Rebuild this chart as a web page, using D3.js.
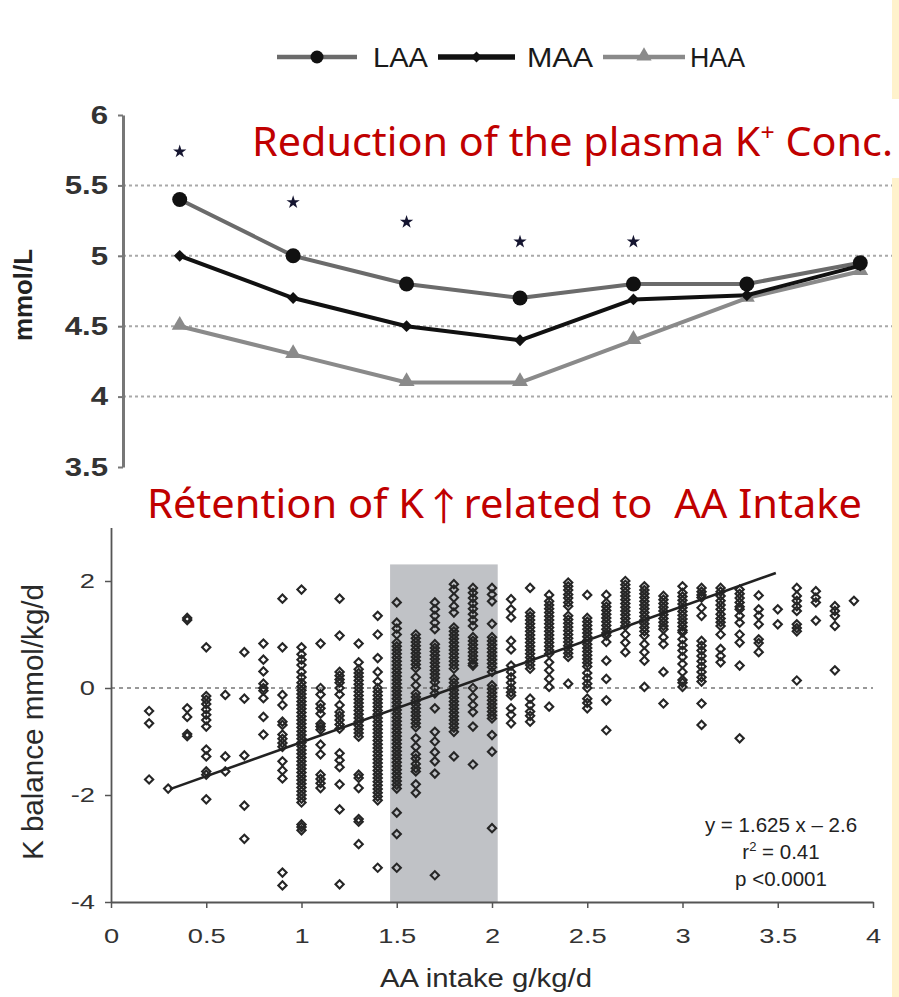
<!DOCTYPE html>
<html><head><meta charset="utf-8">
<script src="https://cdn.jsdelivr.net/npm/d3@7"></script>
<style>body{margin:0;background:#fff}svg{display:block}</style>
</head><body><svg id="c" width="899" height="997"></svg>
<script>
// ---------- top chart data ----------
const groups = [1, 2, 3, 4, 5, 6, 7];
const laa = [5.4, 5.0, 4.8, 4.7, 4.8, 4.8, 4.95];
const maa = [5.0, 4.7, 4.5, 4.4, 4.69, 4.72, 4.93];
const haa = [4.5, 4.3, 4.1, 4.1, 4.4, 4.7, 4.89];
const starGroups = [1, 2, 3, 4, 5];
const starLevels = [5.74, 5.38, 5.24, 5.1, 5.1];
const topTicks = [3.5, 4, 4.5, 5, 5.5, 6];
const gridLevels = [4, 4.5, 5, 5.5];
const legendNames = ["LAA", "MAA", "HAA"];

// ---------- bottom chart data ----------
const aaIntake = [0.2,0.3,0.4,0.5,0.6,0.7,0.8,0.9,1.0,1.1,1.2,1.3,1.4,1.5,1.6,1.7,1.8,1.9,2.0,
  2.1,2.2,2.3,2.4,2.5,2.6,2.7,2.8,2.9,3.0,3.1,3.2,3.3,3.4,3.5,3.6,3.7,3.8,3.9];
const kBalance = [
  [-0.43,-0.66,-1.71],
  [-1.88],
  [1.27,1.31,-0.38,-0.54,-0.86,-0.9],
  [0.76,-0.15,-0.22,-0.3,-0.4,-0.5,-0.6,-0.72,-1.15,-1.28,-1.56,-1.62,-2.08],
  [-0.13,-1.28,-1.56],
  [0.67,-0.2,-1.26,-2.2,-2.82],
  [0.83,0.53,0.31,0.08,0.0,-0.05,-0.19,-0.54,-0.87],
  [1.67,0.76,-0.13,-0.32,-0.63,-0.69,-0.87,-0.95,-1.03,-1.1,-1.37,-1.54,-1.69,-3.45,-3.69],
  [1.84,0.76,0.63,0.53,0.43,0.3,0.2,0.1,0.03,-0.04,-0.11,-0.18,-0.25,-0.32,-0.39,-0.46,-0.53,-0.6,-0.67,-0.74,-0.81,-0.88,-0.95,-1.02,-1.09,-1.16,-1.23,-1.3,-1.37,-1.44,-1.51,-1.58,-1.65,-1.72,-1.79,-1.86,-1.93,-2.0,-2.07,-2.14,-2.55,-2.6,-2.66],
  [0.83,0.0,-0.12,-0.3,-0.38,-0.48,-0.67,-0.72,-0.78,-1.06,-1.24,-1.62,-1.7,-1.78,-1.87],
  [1.67,0.98,0.3,0.23,0.16,0.1,0.0,-0.12,-0.32,-0.45,-0.52,-0.6,-0.68,-0.76,-1.22,-1.35,-1.48,-1.8,-2.27,-3.67],
  [0.83,0.48,0.35,0.28,0.21,0.14,0.07,0.0,-0.07,-0.14,-0.21,-0.28,-0.35,-0.42,-0.49,-0.56,-0.63,-0.7,-0.77,-0.84,-0.91,-1.62,-1.68,-1.87,-2.45,-2.5,-2.92],
  [1.35,1.0,0.56,0.3,0.12,0.0,-0.07,-0.14,-0.21,-0.28,-0.35,-0.42,-0.49,-0.56,-0.63,-0.7,-0.77,-0.84,-0.91,-0.98,-1.05,-1.12,-1.19,-1.26,-1.33,-1.4,-1.47,-1.54,-1.61,-1.68,-1.75,-1.82,-1.89,-1.96,-2.03,-2.1,-3.36],
  [1.6,1.22,1.11,1.0,0.85,0.78,0.71,0.64,0.57,0.5,0.43,0.36,0.29,0.22,0.15,0.08,0.01,-0.06,-0.13,-0.2,-0.27,-0.34,-0.41,-0.48,-0.55,-0.62,-0.69,-0.76,-0.83,-0.9,-0.97,-1.04,-1.11,-1.18,-1.25,-1.32,-1.39,-1.46,-1.53,-1.6,-1.67,-1.74,-1.81,-1.88,-2.33,-2.73,-3.36],
  [1.0,0.93,0.86,0.79,0.72,0.65,0.58,0.51,0.44,0.37,0.2,0.05,-0.1,-0.17,-0.24,-0.31,-0.38,-0.45,-0.52,-0.59,-0.66,-0.73,-0.94,-1.1,-1.24,-1.32,-1.42,-1.5,-1.56,-1.8,-1.96],
  [1.6,1.47,1.35,1.22,1.1,0.82,0.75,0.68,0.61,0.54,0.47,0.4,0.33,0.26,0.19,0.11,0.0,-0.1,-0.38,-0.82,-1.0,-1.2,-1.37,-1.6,-3.5],
  [1.94,1.84,1.69,1.53,1.41,1.13,1.06,0.99,0.92,0.85,0.78,0.71,0.64,0.57,0.5,0.43,0.36,0.17,0.1,0.03,-0.04,-0.11,-0.18,-0.25,-0.32,-0.39,-0.46,-0.53,-0.6,-0.67,-0.74,-0.82,-1.28],
  [1.87,1.78,1.68,1.58,1.48,1.38,1.27,1.16,0.95,0.88,0.81,0.74,0.67,0.6,0.53,0.46,0.42,0.0,-0.17,-0.32,-0.45,-0.72,-1.43],
  [1.87,1.75,1.62,1.2,0.95,0.88,0.81,0.74,0.67,0.6,0.53,0.46,0.39,0.3,0.05,-0.02,-0.09,-0.16,-0.23,-0.3,-0.37,-0.44,-0.51,-0.57,-0.88,-1.19,-2.62],
  [1.66,1.47,1.32,0.88,0.72,0.42,0.3,0.2,0.1,0.0,-0.08,-0.14,-0.38,-0.5,-0.66],
  [1.87,1.41,1.34,1.27,1.2,1.13,1.06,0.99,0.92,0.85,0.78,0.71,0.64,0.57,0.5,0.43,0.36,-0.2,-0.32,-0.44,-0.52,-0.63],
  [1.74,1.62,1.55,1.48,1.41,1.34,1.27,1.2,1.13,1.06,0.99,0.92,0.85,0.78,0.71,0.64,0.48,0.33,0.17,0.02,-0.35],
  [1.97,1.9,1.83,1.75,1.68,1.6,1.53,1.35,1.28,1.21,1.14,1.07,1.0,0.93,0.86,0.79,0.72,0.65,0.58,0.08],
  [1.74,1.31,1.24,1.17,1.1,1.03,0.96,0.89,0.82,0.75,0.68,0.61,0.54,0.47,0.4,0.28,0.18,0.08,0.0,-0.2,-0.28,-0.38],
  [1.74,1.59,1.52,1.45,1.38,1.31,1.24,1.17,1.1,1.03,0.98,0.86,0.51,0.17,-0.23,-0.79],
  [2.0,1.93,1.86,1.79,1.72,1.65,1.58,1.51,1.44,1.37,1.3,1.23,1.16,1.0,0.85,0.67],
  [1.9,1.83,1.76,1.69,1.62,1.55,1.48,1.41,1.34,1.27,1.2,1.13,1.06,0.98,0.82,0.67,0.51,0.02],
  [1.72,1.65,1.58,1.51,1.44,1.37,1.3,1.23,1.16,1.1,0.95,0.82,0.3,-0.29],
  [1.9,1.78,1.71,1.64,1.57,1.5,1.43,1.36,1.29,1.22,1.15,1.08,1.04,0.91,0.8,0.7,0.58,0.45,0.3,0.15,0.1,0.02],
  [1.87,1.8,1.74,1.69,1.5,1.35,0.88,0.79,0.7,0.6,0.5,0.4,0.3,0.2,0.12,-0.29,-0.69],
  [1.87,1.8,1.72,1.63,1.55,1.47,1.38,1.3,1.23,1.16,1.0,0.73,0.6,0.48],
  [1.84,1.76,1.68,1.6,1.52,1.47,1.35,1.22,1.0,0.85,0.42,-0.94],
  [1.73,1.47,1.35,1.19,0.91,0.84,0.67],
  [1.47,1.19],
  [1.87,1.72,1.63,1.53,1.44,1.19,1.12,1.06,0.14],
  [1.81,1.69,1.6,1.26],
  [1.53,1.44,1.35,1.16,0.33],
  [1.63]
];
const fitX = [0.31, 3.49];
const fitY = [-1.89, 2.15];
const shadeX = [1.465, 2.03];
const shadeTop = 2.31;
const xTicksB = [0, 0.5, 1, 1.5, 2, 2.5, 3, 3.5, 4];
const yTicksB = [-4, -2, 0, 2];
const statLines = ["y = 1.625 x \u2013 2.6", "r\u00b2 = 0.41", "p <0.0001"];

const svg = d3.select('#c');
const AR = 'Liberation Sans, Arial, sans-serif';
const RED = 'Noto Sans, Open Sans, sans-serif';

// right yellow strip
svg.append('rect').attr('x', 892).attr('y', 0).attr('width', 7).attr('height', 99).attr('fill', '#FFF2CC');
svg.append('rect').attr('x', 892).attr('y', 178).attr('width', 7).attr('height', 819).attr('fill', '#FFF2CC');

// ================= TOP CHART =================
const xT = d3.scaleLinear().domain([0.5, 7.5]).range([123, 917]);
const yT = d3.scaleLinear().domain([3.5, 6]).range([467, 115]);

svg.append('g').selectAll('line').data(gridLevels).join('line')
  .attr('x1', 123).attr('x2', 892).attr('y1', d => yT(d)).attr('y2', d => yT(d))
  .attr('stroke', '#a9a9a9').attr('stroke-width', 2).attr('stroke-dasharray', '3,3');

const gAxT = svg.append('g').attr('transform', 'translate(123,0)')
  .call(d3.axisLeft(yT).tickValues(topTicks).tickFormat(d => String(d)).tickSize(5).tickSizeOuter(0).tickPadding(12));
gAxT.select('.domain').attr('stroke', '#777').attr('stroke-width', 3);
gAxT.selectAll('.tick line').attr('stroke', '#777').attr('stroke-width', 2);
gAxT.selectAll('.tick text').attr('font-family', AR).attr('font-size', 26).attr('font-weight', 'bold')
  .attr('fill', '#333').attr('x', -15 / 1.2).attr('transform', 'scale(1.2,1)');

svg.append('text').attr('transform', 'translate(32,295) rotate(-90)').attr('text-anchor', 'middle')
  .attr('font-family', AR).attr('font-size', 26).attr('font-weight', 'bold').attr('fill', '#222')
  .attr('textLength', 92).attr('lengthAdjust', 'spacingAndGlyphs').text('mmol/L');

const lineT = d3.line().x((d, i) => xT(groups[i])).y(d => yT(d));
const series = [
  {name: 'LAA', vals: laa, color: '#6b6b6b', width: 4},
  {name: 'MAA', vals: maa, color: '#111', width: 4},
  {name: 'HAA', vals: haa, color: '#8a8a8a', width: 4}
];
[series[2], series[0], series[1]].forEach(s => {
  svg.append('path').datum(s.vals).attr('d', lineT).attr('fill', 'none')
    .attr('stroke', s.color).attr('stroke-width', s.width).attr('stroke-linejoin', 'round');
});
svg.append('g').selectAll('path').data(haa).join('path')
  .attr('d', d3.symbol(d3.symbolTriangle, 110)())
  .attr('transform', (d, i) => `translate(${xT(groups[i])},${yT(d) - 1})`).attr('fill', '#8a8a8a');
svg.append('g').selectAll('circle').data(laa).join('circle')
  .attr('cx', (d, i) => xT(groups[i])).attr('cy', d => yT(d)).attr('r', 7.5).attr('fill', '#111');
svg.append('g').selectAll('path').data(maa).join('path')
  .attr('d', d3.symbol(d3.symbolSquare, 70)())
  .attr('transform', (d, i) => `translate(${xT(groups[i])},${yT(d)}) rotate(45)`).attr('fill', '#111');
svg.append('g').selectAll('path').data(starLevels).join('path')
  .attr('d', d3.symbol(d3.symbolStar, 55)())
  .attr('transform', (d, i) => `translate(${xT(starGroups[i])},${yT(d)})`).attr('fill', '#151530');

// legend
const leg = svg.append('g').attr('font-family', AR).attr('font-size', 28).attr('fill', '#1a1a1a');
const legX = [277, 438, 603];
const legW = [80, 77, 82];
const legTx = [373, 527, 690];
legendNames.forEach((n, i) => {
  const s = series[i];
  leg.append('line').attr('x1', legX[i]).attr('x2', legX[i] + legW[i]).attr('y1', 57).attr('y2', 57)
    .attr('stroke', s.color).attr('stroke-width', i === 1 ? 5.5 : 4.5);
  const cx = legX[i] + legW[i] / 2;
  if (i === 0) leg.append('circle').attr('cx', cx).attr('cy', 57).attr('r', 6.5).attr('fill', '#111');
  if (i === 1) leg.append('path').attr('d', d3.symbol(d3.symbolSquare, 60)()).attr('transform', `translate(${cx},57) rotate(45)`).attr('fill', '#111');
  if (i === 2) leg.append('path').attr('d', d3.symbol(d3.symbolTriangle, 100)()).attr('transform', `translate(${cx},56)`).attr('fill', '#8a8a8a');
  leg.append('text').attr('x', legTx[i]).attr('y', 67).attr('textLength', i === 1 ? 66 : 55)
    .attr('lengthAdjust', 'spacingAndGlyphs').text(n);
});

// red title 1
const t1 = svg.append('text').attr('x', 252).attr('y', 156).attr('font-family', RED)
  .attr('font-size', 40).attr('fill', '#C00000').attr('textLength', 641).attr('lengthAdjust', 'spacingAndGlyphs');
t1.append('tspan').text('Reduction of the plasma K');
t1.append('tspan').attr('font-size', 24).attr('dy', -15).text('+');
t1.append('tspan').attr('dy', 15).text(' Conc.');

// ================= BOTTOM CHART =================
const xB = d3.scaleLinear().domain([0, 4]).range([111, 873]);
const yB = d3.scaleLinear().domain([-4, 3]).range([902, 527.5]);

svg.append('rect').attr('x', xB(shadeX[0])).attr('width', xB(shadeX[1]) - xB(shadeX[0]))
  .attr('y', yB(shadeTop)).attr('height', yB(-4) - yB(shadeTop)).attr('fill', '#c0c2c6');

svg.append('line').attr('x1', xB(0)).attr('x2', xB(4)).attr('y1', yB(0)).attr('y2', yB(0))
  .attr('stroke', '#777').attr('stroke-width', 1.4).attr('stroke-dasharray', '4,4');

const pts = [];
aaIntake.forEach((x, i) => kBalance[i].forEach(y => pts.push([x, y])));
svg.append('g').selectAll('path').data(pts).join('path')
  .attr('d', d3.symbol(d3.symbolSquare, 34)())
  .attr('transform', d => `translate(${xB(d[0])},${yB(d[1])}) rotate(45)`)
  .attr('fill', 'none').attr('stroke', '#262626').attr('stroke-width', 2.1);

svg.append('line').attr('x1', xB(fitX[0])).attr('y1', yB(fitY[0])).attr('x2', xB(fitX[1])).attr('y2', yB(fitY[1]))
  .attr('stroke', '#222').attr('stroke-width', 2.6);

const gAxBY = svg.append('g').attr('transform', 'translate(111,0)')
  .call(d3.axisLeft(yB).tickValues(yTicksB).tickFormat(d => String(d)).tickSize(6).tickSizeOuter(0).tickPadding(10));
const gAxBX = svg.append('g').attr('transform', 'translate(0,902)')
  .call(d3.axisBottom(xB).tickValues(xTicksB).tickFormat(d => String(d)).tickSize(6).tickSizeOuter(0).tickPadding(20));
[gAxBY, gAxBX].forEach(g => {
  g.select('.domain').attr('stroke', '#555').attr('stroke-width', 1.8);
  g.selectAll('.tick line').attr('stroke', '#555').attr('stroke-width', 1.5);
  g.selectAll('.tick text').attr('font-family', AR).attr('font-size', 21).attr('fill', '#333');
});
gAxBX.selectAll('.tick text').attr('transform', 'scale(1.3,1)');
gAxBY.selectAll('.tick text').attr('x', -16 / 1.3).attr('transform', 'scale(1.3,1)');

svg.append('text').attr('transform', 'translate(43,722) rotate(-90)').attr('text-anchor', 'middle')
  .attr('font-family', AR).attr('font-size', 29).attr('fill', '#2a2a2a')
  .attr('textLength', 276).attr('lengthAdjust', 'spacingAndGlyphs').text('K balance mmol/kg/d');
svg.append('text').attr('x', 486).attr('y', 987).attr('text-anchor', 'middle')
  .attr('font-family', AR).attr('font-size', 25).attr('fill', '#2a2a2a')
  .attr('textLength', 212).attr('lengthAdjust', 'spacingAndGlyphs').text('AA intake g/kg/d');

const statY = [832, 859, 886];
statLines.forEach((s, i) => {
  const t = svg.append('text').attr('x', 781).attr('y', statY[i]).attr('font-family', AR).attr('font-size', 20.5)
    .attr('fill', '#222').attr('text-anchor', 'middle');
  if (i === 1) {
    t.append('tspan').text('r');
    t.append('tspan').attr('font-size', 13).attr('dy', -8).text('2');
    t.append('tspan').attr('dy', 8).text(' = 0.41');
  } else {
    t.text(s);
  }
});

// red title 2
const t2 = svg.append('text').attr('x', 147).attr('y', 518).attr('font-family', RED)
  .attr('font-size', 40).attr('fill', '#C00000').attr('textLength', 715).attr('lengthAdjust', 'spacingAndGlyphs')
  .style('white-space', 'pre');
t2.append('tspan').text('R\u00e9tention of K');
t2.append('tspan').attr('font-family', 'Noto Sans CJK SC, DejaVu Sans, sans-serif').attr('font-size', 38).attr('dy', 2).text('\u2191');
t2.append('tspan').attr('dy', -2).text('related to  AA Intake');
</script></body></html>
